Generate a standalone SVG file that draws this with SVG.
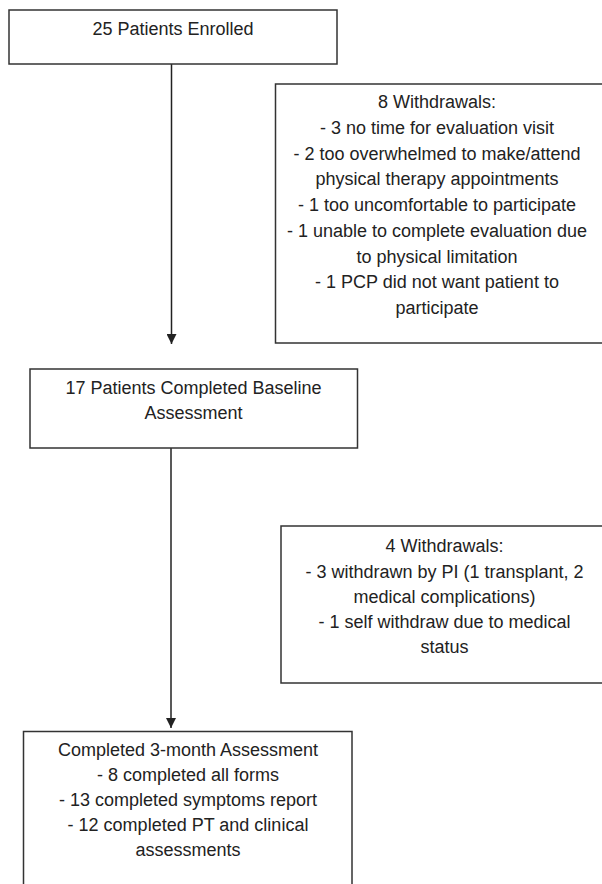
<svg xmlns="http://www.w3.org/2000/svg" width="602" height="884" viewBox="0 0 602 884">
<style>
.box{fill:#fff;stroke:#333;stroke-width:1.5}
.t{font-family:"Liberation Sans",Arial,sans-serif;font-size:18px;fill:#222;text-anchor:middle}
.conn{stroke:#222;stroke-width:1.5;fill:none}
</style>
<defs>
<marker id="arr" markerUnits="userSpaceOnUse" markerWidth="10" markerHeight="10" refX="10" refY="5" orient="auto">
<path d="M0,0 L10,5 L0,10 z" fill="#222"/>
</marker>
</defs>
<rect width="602" height="884" fill="#fff"/>
<g id="connectors">
<line class="conn" x1="171.5" y1="64" x2="171.5" y2="344" marker-end="url(#arr)"/>
<line class="conn" x1="171" y1="448" x2="171" y2="728" marker-end="url(#arr)"/>
</g>
<g id="enrolled">
<rect class="box" x="9" y="10" width="328" height="54"/>
<text class="t" x="173" y="35">25 Patients Enrolled</text>
</g>
<g id="withdrawals1">
<rect class="box" x="275.5" y="84" width="345" height="259"/>
<text class="t" x="437" y="108">8 Withdrawals:</text>
<text class="t" x="437" y="134">- 3 no time for evaluation visit</text>
<text class="t" x="437" y="160">- 2 too overwhelmed to make/attend</text>
<text class="t" x="437" y="185">physical therapy appointments</text>
<text class="t" x="437" y="211">- 1 too uncomfortable to participate</text>
<text class="t" x="437" y="237">- 1 unable to complete evaluation due</text>
<text class="t" x="437" y="263">to physical limitation</text>
<text class="t" x="437" y="288">- 1 PCP did not want patient to</text>
<text class="t" x="437" y="314">participate</text>
</g>
<g id="baseline">
<rect class="box" x="30" y="369" width="327.5" height="79"/>
<text class="t" x="193.5" y="394">17 Patients Completed Baseline</text>
<text class="t" x="193.5" y="419">Assessment</text>
</g>
<g id="withdrawals2">
<rect class="box" x="281" y="526" width="340" height="157"/>
<text class="t" x="444.5" y="552">4 Withdrawals:</text>
<text class="t" x="444.5" y="577.5">- 3 withdrawn by PI (1 transplant, 2</text>
<text class="t" x="444.5" y="603">medical complications)</text>
<text class="t" x="444.5" y="628">- 1 self withdraw due to medical</text>
<text class="t" x="444.5" y="653">status</text>
</g>
<g id="threemonth">
<rect class="box" x="23.5" y="731.5" width="328.5" height="170"/>
<text class="t" x="188" y="756">Completed 3-month Assessment</text>
<text class="t" x="188" y="781">- 8 completed all forms</text>
<text class="t" x="188" y="806">- 13 completed symptoms report</text>
<text class="t" x="188" y="831">- 12 completed PT and clinical</text>
<text class="t" x="188" y="856">assessments</text>
</g>
</svg>
